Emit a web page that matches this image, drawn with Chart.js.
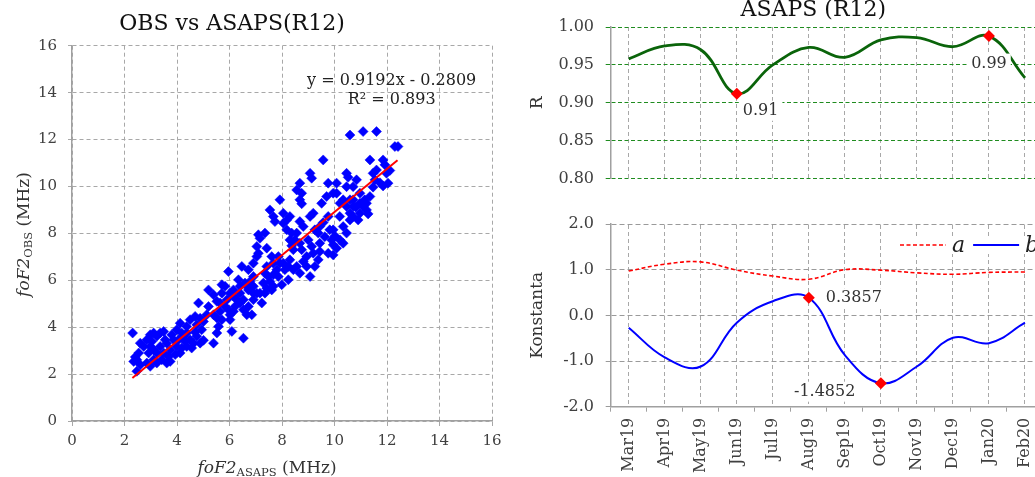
<!DOCTYPE html>
<html><head><meta charset="utf-8">
<script src="https://cdn.jsdelivr.net/npm/chart.js@4.4.0/dist/chart.umd.min.js"></script>
<style>
html,body{margin:0;padding:0;overflow:hidden;background:#fff;}
#wrap{position:relative;width:1035px;height:477px;overflow:hidden;background:#fff;}
canvas{position:absolute;display:block;}
#cL{left:0;top:0;} #cT{left:520px;top:0;} #cB{left:520px;top:200px;}
</style></head><body>
<div id="wrap">
<canvas id="cL" width="520" height="477"></canvas>
<canvas id="cT" width="540" height="200"></canvas>
<canvas id="cB" width="540" height="277"></canvas>
</div>
<script>
// ---------- DATA ----------
const asapsVals = [2.31,10.59,11.09,11.60,12.30,12.42,9.57,11.35,11.85,11.92,9.07,9.13,8.68,8.56,8.75,9.76,10.08,10.46,10.52,10.84,
11.47,11.60,11.98,12.11,11.54,11.73,11.85,12.04,11.47,11.35,10.97,10.71,7.92,7.54,7.67,7.73,8.05,8.68,8.75,9.51,
9.70,9.95,10.33,10.46,10.59,10.97,10.81,11.22,11.28,10.90,8.05,8.18,8.30,8.68,8.81,9.07,9.19,9.25,9.44,9.57,
9.76,9.95,10.20,10.33,10.46,9.89,10.02,9.95,9.44,9.19,9.38,8.94,8.81,8.68,8.75,8.43,8.37,8.56,8.94,8.30,
8.11,8.24,7.86,7.92,7.61,7.67,7.42,7.35,7.10,7.16,7.04,7.10,7.35,7.42,6.72,5.96,6.47,6.91,6.66,6.78,
7.54,7.67,7.35,7.42,7.61,7.16,6.91,7.23,6.40,6.15,5.83,5.71,5.39,5.52,6.15,6.28,6.40,6.53,6.21,6.66,
6.53,5.96,6.02,5.64,5.71,5.58,5.52,6.09,6.53,5.39,5.20,4.82,5.13,5.01,4.94,4.75,4.69,4.88,5.01,4.56,
4.63,4.37,4.37,4.25,4.12,3.99,3.87,3.99,4.12,3.74,3.68,3.74,3.49,3.42,3.36,3.49,3.23,3.11,2.98,2.85,
2.73,2.60,2.54,2.47,2.35,2.41,2.60,2.47,2.85,2.98,3.11,3.23,3.11,2.98,3.61,3.80,2.92,3.23,3.36,3.55,
3.04,3.61,3.93,4.18,4.37,4.50,4.31,4.06,4.18,4.75,4.88,4.50,4.69,5.20,5.71,5.90,6.02,5.64,5.39,5.52,
5.83,6.34,6.59,6.91,7.04,7.29,7.48,7.67,7.86,7.99,7.80,6.91,7.04,6.72,6.40,6.15,6.72,6.85,6.02,6.91,
8.30,8.18,8.37,8.49,9.00,9.13,9.44,9.76,10.08,10.21,10.33,9.95,9.25,9.07,8.68,8.43,8.24,8.05,8.56,9.38,
9.63,9.82,10.59,10.71,10.97,11.09,10.71,11.15,11.22,10.59,10.21,10.08,10.71,10.46];
const obsVals = [3.75,12.19,12.34,12.34,11.70,11.70,11.13,11.13,11.13,10.92,10.56,10.35,10.14,9.85,9.71,10.14,10.14,10.56,10.39,10.28,
10.56,10.70,10.56,10.68,10.28,10.16,10.02,10.14,9.97,9.57,9.71,9.43,9.43,9.00,8.72,8.50,8.86,9.43,9.26,9.28,
9.57,9.71,9.43,9.14,8.86,9.28,9.11,9.00,8.83,8.57,8.43,8.15,7.72,8.50,8.29,8.72,8.86,8.15,8.29,8.46,
8.72,8.15,8.72,8.29,8.01,7.72,7.89,7.51,7.58,7.15,6.87,7.01,6.80,7.58,7.30,7.30,7.47,6.59,6.59,6.87,
6.45,6.02,7.01,6.73,7.01,6.73,6.59,6.30,7.94,7.79,7.44,7.15,8.01,7.37,6.45,6.37,6.59,6.16,5.74,5.95,
5.95,5.74,5.45,5.66,5.59,5.45,5.17,5.03,5.74,5.59,5.74,5.81,5.38,5.10,5.31,5.17,5.45,5.17,4.88,4.53,
4.74,4.74,4.53,4.67,4.32,4.03,3.75,3.82,3.53,3.32,4.88,5.03,4.53,4.24,3.89,3.61,3.78,3.32,3.44,3.11,
3.32,4.03,3.75,3.61,4.17,3.89,3.46,3.18,2.90,3.04,2.75,2.54,2.90,2.61,3.75,3.82,3.61,3.75,3.68,3.46,
3.18,3.32,2.90,2.61,2.54,2.73,2.40,2.12,2.47,2.33,2.61,2.90,3.04,3.18,3.32,3.68,2.90,2.47,3.18,3.46,
3.39,2.47,2.83,3.11,3.18,3.46,3.39,3.46,3.75,4.10,4.38,4.32,4.46,5.59,5.45,5.17,5.45,5.03,4.53,4.39,
4.88,6.02,5.88,5.74,5.45,5.88,6.16,6.23,6.16,5.81,6.45,6.73,7.01,5.59,5.03,4.67,4.88,4.53,4.32,5.45,
8.72,8.57,8.01,7.72,7.72,7.44,7.23,7.15,7.37,7.72,7.58,7.08,6.59,6.16,6.30,6.45,6.59,6.73,8.01,8.01,
7.86,8.15,8.57,8.72,8.86,9.14,9.14,9.43,9.28,9.43,9.28,9.71,9.99,9.99];
const trendX = [2.3, 12.4];
const trendCoef = [0.9192, -0.2809];
const rSquared = 0.893;
const xyTicks = [0,2,4,6,8,10,12,14,16];

const months = ['Mar19','Apr19','May19','Jun19','Jul19','Aug19','Sep19','Oct19','Nov19','Dec19','Jan20','Feb20'];
const rVals = [0.958,0.975,0.970,0.912,0.950,0.973,0.960,0.983,0.986,0.974,0.988,0.933];
const aVals = [0.97,1.12,1.17,0.99,0.86,0.79,1.00,0.99,0.93,0.90,0.94,0.95];
const bVals = [-0.27,-0.92,-1.12,-0.16,0.31,0.3857,-0.87,-1.4852,-1.12,-0.49,-0.61,-0.16];
const rMarkIdx = [3,10];
const bMarkIdx = [5,7];
const rTicks = [0.80,0.85,0.90,0.95,1.00];
const kTicks = [-2,-1,0,1,2];

// ---------- HELPERS ----------
const SERIF = '"DejaVu Serif", serif';
const TXT = '#333333';
function drawRich(ctx, parts, x, y, rot, align){
  ctx.save(); ctx.translate(x,y); ctx.rotate(rot||0);
  let total = 0;
  parts.forEach(p=>{ctx.font=p.font; p.w=ctx.measureText(p.text).width; total+=p.w;});
  let cx = align==='center' ? -total/2 : (align==='right' ? -total : 0);
  ctx.textBaseline='alphabetic'; ctx.textAlign='left';
  parts.forEach(p=>{ctx.font=p.font; ctx.fillStyle=p.color||TXT; ctx.fillText(p.text,cx,p.dy||0); cx+=p.w;});
  ctx.restore();
}
const richText = {
  id:'richText',
  afterDraw(chart, args, opts){
    (opts.items||[]).forEach(it=>drawRich(chart.ctx, it.parts, it.x, it.y, it.rot, it.align||'center'));
  }
};
const pointLabels = {
  id:'pointLabels',
  afterDatasetsDraw(chart, args, opts){
    const ctx = chart.ctx;
    (opts.items||[]).forEach(it=>{
      const el = chart.getDatasetMeta(it.ds).data[it.index];
      const val = chart.data.datasets[it.ds].data[it.index];
      const text = val.toFixed(it.digits);
      ctx.save();
      ctx.font = opts.font;
      const w = ctx.measureText(text).width;
      const x = el.x + it.dx, y = el.y + it.dy;
      const left = it.align==='left' ? x : (it.align==='right' ? x - w : x - w/2);
      ctx.fillStyle = '#ffffff';
      ctx.fillRect(left-4, y-10, w+8, 20);
      ctx.fillStyle = opts.color; ctx.textBaseline='middle'; ctx.textAlign='left';
      ctx.fillText(text, left, y);
      ctx.restore();
    });
  }
};
// legend drawn from the datasets' own styles, in one row
const lineLegend = {
  id:'lineLegend',
  afterDraw(chart, args, opts){
    const ctx = chart.ctx;
    ctx.save();
    ctx.font = opts.font;
    const items = chart.data.datasets.map(ds=>({ds, w: ctx.measureText(ds.label).width}));
    let total = 0;
    items.forEach((it,i)=>{ total += opts.lineW + opts.gapText + it.w + (i < items.length-1 ? opts.gapItem : 0); });
    ctx.fillStyle = '#ffffff';
    ctx.fillRect(opts.x - 4, opts.y - 9, total + 8, 18);
    let x = opts.x;
    items.forEach(it=>{
      ctx.save();
      ctx.strokeStyle = it.ds.borderColor; ctx.lineWidth = it.ds.borderWidth;
      ctx.setLineDash(it.ds.borderDash || []);
      ctx.beginPath(); ctx.moveTo(x, opts.y); ctx.lineTo(x + opts.lineW, opts.y); ctx.stroke();
      ctx.restore();
      x += opts.lineW + opts.gapText;
      ctx.fillStyle = opts.color; ctx.textBaseline = 'middle'; ctx.textAlign = 'left';
      ctx.fillText(it.ds.label, x, opts.y + 1);
      x += it.w + opts.gapItem;
    });
    ctx.restore();
  }
};
function radii(n, idx, r){ return Array.from({length:n}, (_,i)=> idx.includes(i) ? r : 0); }
const tickFont = (s)=>({family:SERIF, size:s});
const VGRID = '#a8a8a8';

// ---------- LEFT: scatter ----------
const slopeTxt = trendCoef[0].toFixed(4);
const interTxt = (trendCoef[1] < 0 ? ' - ' : ' + ') + Math.abs(trendCoef[1]).toFixed(4);
new Chart(document.getElementById('cL'), {
  type:'scatter',
  data:{ datasets:[
    { label:'trend', type:'line', data: trendX.map(x=>({x, y: trendCoef[0]*x + trendCoef[1]})),
      borderColor:'#ff0000', borderWidth:2, pointRadius:0, fill:false, order:0 },
    { label:'OBS', data: asapsVals.map((x,i)=>({x, y: obsVals[i]})),
      pointStyle:'rectRot', pointRadius:5, pointBackgroundColor:'#0000ff', pointBorderColor:'#0000ff', pointBorderWidth:0.5, order:1 }
  ]},
  options:{
    responsive:false, animation:false, events:[],
    layout:{padding:{left:0,right:28,top:45.7,bottom:0}},
    plugins:{ legend:{display:false}, tooltip:{enabled:false},
      richText:{ items:[
        {x:232, y:30, parts:[{text:'OBS vs ASAPS(R12)', font:'22px '+SERIF, color:'#111'}]},
        {x:391.7, y:84.5, parts:[{text:'y = '+slopeTxt+'x'+interTxt, font:'16px '+SERIF, color:'#222'}]},
        {x:391.7, y:104, parts:[{text:'R² = '+rSquared.toFixed(3), font:'16px '+SERIF, color:'#222'}]},
        {x:267, y:472.5, parts:[
          {text:'foF2', font:'italic 17px '+SERIF},
          {text:'ASAPS', font:'11.5px '+SERIF, dy:3},
          {text:' (MHz)', font:'17px '+SERIF}]},
        {x:29, y:234.5, rot:-Math.PI/2, parts:[
          {text:'foF2', font:'italic 17px '+SERIF},
          {text:'OBS', font:'11.5px '+SERIF, dy:3},
          {text:' (MHz)', font:'17px '+SERIF}]}
      ]}
    },
    scales:{
      x:{ type:'linear', min:0, max:16,
        afterBuildTicks:(s)=>{ s.ticks = xyTicks.map(v=>({value:v})); },
        ticks:{font:tickFont(15), color:'#404040', padding:6},
        grid:{color:VGRID, tickLength:5, tickColor:VGRID},
        border:{color:'#a0a0a0', width:1.5, dash:[4,3]},
        afterFit:(s)=>{ s.height = 56; } },
      y:{ type:'linear', min:0, max:16,
        afterBuildTicks:(s)=>{ s.ticks = xyTicks.map(v=>({value:v})); },
        ticks:{font:tickFont(15), color:'#404040', padding:11},
        grid:{color:VGRID, tickLength:4, tickColor:VGRID},
        border:{color:'#a0a0a0', width:1.5, dash:[4,3]},
        afterFit:(s)=>{ s.width = 72; } }
    }
  },
  plugins:[richText]
});

// ---------- RIGHT TOP: R ----------
new Chart(document.getElementById('cT'), {
  type:'line',
  data:{ labels: months, datasets:[
    { label:'R', data:rVals, xAxisID:'x', borderColor:'#0a640a', borderWidth:2.8, tension:0.4, fill:false,
      pointStyle:'rectRot', pointRadius: radii(months.length, rMarkIdx, 6),
      pointBackgroundColor:'#ff0000', pointBorderColor:'#ff0000', pointBorderWidth:0 }
  ]},
  options:{
    responsive:false, animation:false, events:[],
    layout:{padding:{left:0,right:17,top:27,bottom:17}},
    plugins:{ legend:{display:false}, tooltip:{enabled:false},
      richText:{ items:[
        {x:293.3, y:16, parts:[{text:'ASAPS (R12)', font:'22px '+SERIF, color:'#111'}]}
      ]},
      pointLabels:{ font:'16px '+SERIF, color:'#333', items:[
        {ds:0, index:rMarkIdx[0], digits:2, dx:6, dy:17, align:'left'},
        {ds:0, index:rMarkIdx[1], digits:2, dx:0, dy:27.5, align:'center'}
      ]}
    },
    scales:{
      x:{ type:'category', offset:true, ticks:{display:false},
        grid:{color:VGRID, drawTicks:false, offset:false},
        border:{display:true, color:'rgba(0,0,0,0)', width:1, dash:[4,3]} },
      y:{ min:0.8, max:1.0,
        afterBuildTicks:(s)=>{ s.ticks = rTicks.map(v=>({value:v})); },
        ticks:{font:tickFont(16), color:'#404040', padding:11.7, callback:(v)=>Number(v).toFixed(2)},
        grid:{color:'#1f8c1f', tickLength:5},
        border:{color:'#a0a0a0', width:1.5, dash:[4,2.5]},
        title:{display:true, text:'R', font:{family:SERIF, size:17}, color:'#333', padding:{top:7,bottom:0}},
        afterFit:(s)=>{ s.width = 90.7; } }
    }
  },
  plugins:[richText, pointLabels]
});

// ---------- RIGHT BOTTOM: a, b ----------
new Chart(document.getElementById('cB'), {
  type:'line',
  data:{ labels: months, datasets:[
    { label:'a', data:aVals, xAxisID:'x', borderColor:'#ff0000', borderWidth:1.6, borderDash:[4,2.5], tension:0.4, fill:false, pointRadius:0 },
    { label:'b', data:bVals, xAxisID:'x', borderColor:'#0000ff', borderWidth:2, tension:0.4, fill:false,
      pointStyle:'rectRot', pointRadius: radii(months.length, bMarkIdx, 6),
      pointBackgroundColor:'#ff0000', pointBorderColor:'#ff0000', pointBorderWidth:0 }
  ]},
  options:{
    responsive:false, animation:false, events:[],
    layout:{padding:{left:0,right:17,top:24,bottom:0}},
    plugins:{ tooltip:{enabled:false}, legend:{display:false},
      lineLegend:{ x:380, y:45, lineW:46, gapText:6, gapItem:8, font:'italic 22px '+SERIF, color:'#222' },
      pointLabels:{ font:'16px '+SERIF, color:'#333', items:[
        {ds:1, index:bMarkIdx[0], digits:4, dx:17, dy:0.5, align:'left'},
        {ds:1, index:bMarkIdx[1], digits:4, dx:-25.5, dy:8.5, align:'right'}
      ]}
    },
    scales:{
      x:{ type:'category', position:'bottom', offset:true,
        ticks:{font:tickFont(16), color:'#404040', minRotation:90, maxRotation:90, autoSkip:false, padding:6},
        grid:{offset:true, drawOnChartArea:false, tickLength:5, color:'#a0a0a0'},
        border:{color:'#a0a0a0', width:1.5},
        afterFit:(s)=>{ s.height = 70.3; } },
      x2:{ type:'category', position:'top', offset:true, ticks:{display:false},
        grid:{offset:false, drawTicks:false, color:VGRID},
        border:{display:true, color:'rgba(0,0,0,0)', width:1, dash:[4,3]} },
      y:{ min:-2, max:2,
        afterBuildTicks:(s)=>{ s.ticks = kTicks.map(v=>({value:v})); },
        ticks:{font:tickFont(16), color:'#404040', padding:11.7, callback:(v)=>Number(v).toFixed(1)},
        grid:{color:'#9a9a9a', tickLength:5},
        border:{color:'#a0a0a0', width:1.5, dash:[5,3]},
        title:{display:true, text:'Konstanta', font:{family:SERIF, size:17}, color:'#333', padding:{top:7,bottom:0}},
        afterFit:(s)=>{ s.width = 90.7; } }
    }
  },
  plugins:[pointLabels, lineLegend]
});
</script></body></html>
